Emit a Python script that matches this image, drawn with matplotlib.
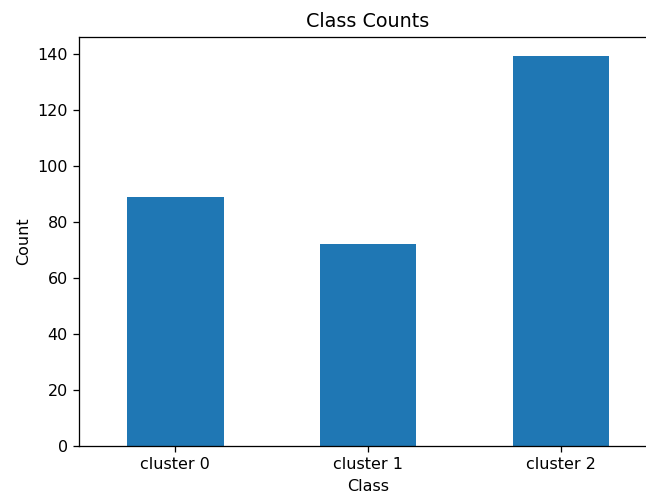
import matplotlib
matplotlib.use("Agg")
import matplotlib.pyplot as plt

# class counts per cluster
classes = ["cluster 0", "cluster 1", "cluster 2"]
counts = [89, 72, 139]

fig = plt.figure(figsize=(646 / 115, 494 / 115), dpi=115)
ax = fig.add_axes([79 / 646, 48 / 494, 578 / 646, 409 / 494])

x = range(len(classes))
ax.bar(x, counts, width=0.5, color="#1f77b4")
ax.set_xticks(list(x))
ax.set_xticklabels(classes)
ax.set_xlim(-0.5, len(classes) - 0.5)
ax.set_ylim(0, max(counts) * 1.05)
ax.set_xlabel("Class")
ax.set_ylabel("Count")
ax.set_title("Class Counts")

fig.savefig("out.png", dpi=115)
